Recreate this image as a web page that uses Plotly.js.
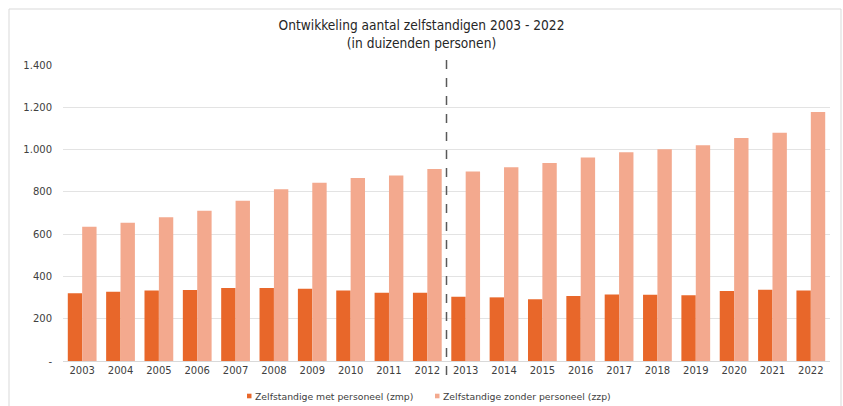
<!DOCTYPE html>
<html>
<head>
<meta charset="utf-8">
<script src="https://cdn.plot.ly/plotly-3.0.1.min.js"></script>
<style>html,body{margin:0;padding:0;background:#fff;}#chart{width:843px;height:406px;}</style>
</head>
<body>
<div id="chart"></div>
<script>
const years = ['2003','2004','2005','2006','2007','2008','2009','2010','2011','2012','2013','2014','2015','2016','2017','2018','2019','2020','2021','2022'];
const zmp = [320, 328, 333, 336, 345, 345, 342, 333, 323, 323, 304, 301, 292, 307, 314, 313, 311, 331, 337, 333];
const zzp = [635, 654, 680, 711, 758, 812, 843, 866, 877, 908, 896, 916, 937, 962, 987, 1001, 1020, 1055, 1080, 1178];
const yTickVals = [0, 200, 400, 600, 800, 1000, 1200, 1400];
const yTickText = ['-', '200', '400', '600', '800', '1.000', '1.200', '1.400'];
const seriesNames = ['Zelfstandige met personeel (zmp)', 'Zelfstandige zonder personeel (zzp)'];
const seriesColors = ['#E8672A', '#F3A98E'];
const titleText = 'Ontwikkeling aantal zelfstandigen 2003 - 2022<br>(in duizenden personen)';

const fontMain = 'DejaVu Sans, Verdana, sans-serif';
const data = [
  {type:'bar', x: years, y: zmp, name: seriesNames[0], marker:{color:seriesColors[0]}, showlegend:false},
  {type:'bar', x: years, y: zzp, name: seriesNames[1], marker:{color:seriesColors[1]}, showlegend:false}
];

// plot area geometry helpers (layout only)
const PL = 63, PW = 767, PB = 361, PH = 296;
const px = v => (v - PL) / PW;
const py = v => (PB - v) / PH;

const legendItems = [
  {mx0:247, text:seriesNames[0], color:seriesColors[0]},
  {mx0:435, text:seriesNames[1], color:seriesColors[1]}
];
const legendY = 396;
const shapes = [
  {type:'line', xref:'x', yref:'paper', x0:9.5, x1:9.5, y0:py(375), y1:py(55),
   line:{color:'#595959', width:1.5, dash:'dash'}},
  {type:'rect', xref:'paper', yref:'paper', x0:px(9), x1:px(841), y0:py(420), y1:py(9),
   line:{color:'#d9d9d9', width:1}, fillcolor:'rgba(0,0,0,0)', layer:'below'}
];
const annotations = [];
legendItems.forEach(it => {
  shapes.push({type:'rect', xref:'paper', yref:'paper', x0:px(it.mx0), x1:px(it.mx0+4.5), y0:py(legendY+2.3), y1:py(legendY-2.3),
    line:{width:0}, fillcolor:it.color});
  annotations.push({xref:'paper', yref:'paper', x:px(it.mx0+6), y:py(legendY), xanchor:'left', yanchor:'middle',
    text:it.text, showarrow:false, font:{family:fontMain, size:9.3, color:'#404040'}});
});

const layout = {
  width: 843, height: 406,
  margin: {l:63, r:13, t:65, b:45},
  paper_bgcolor:'#fff', plot_bgcolor:'#fff',
  barmode:'group', bargap:0.25, bargroupgap:0,
  title: {text: titleText, x:0.5, xref:'container', xanchor:'center', y: 1-30/406, yref:'container', yanchor:'top',
          font:{family:'DejaVu Sans Condensed, Liberation Sans Narrow, sans-serif', size:13.6, color:'#262626'}},
  xaxis: {type:'category', showgrid:false, showline:true, linecolor:'#d9d9d9', linewidth:1, ticks:'',
          tickfont:{family:fontMain, size:10, color:'#404040'}, fixedrange:true},
  yaxis: {range:[0,1400], tickvals:yTickVals, ticktext:yTickText, showgrid:true, gridcolor:'#e3e3e3', gridwidth:1,
          zeroline:false, showline:false, ticks:'', ticklabelstandoff:10,
          tickfont:{family:fontMain, size:10, color:'#404040'}, fixedrange:true},
  showlegend:false,
  shapes: shapes,
  annotations: annotations
};
Plotly.newPlot('chart', data, layout, {displayModeBar:false, staticPlot:true});
</script>
</body>
</html>
